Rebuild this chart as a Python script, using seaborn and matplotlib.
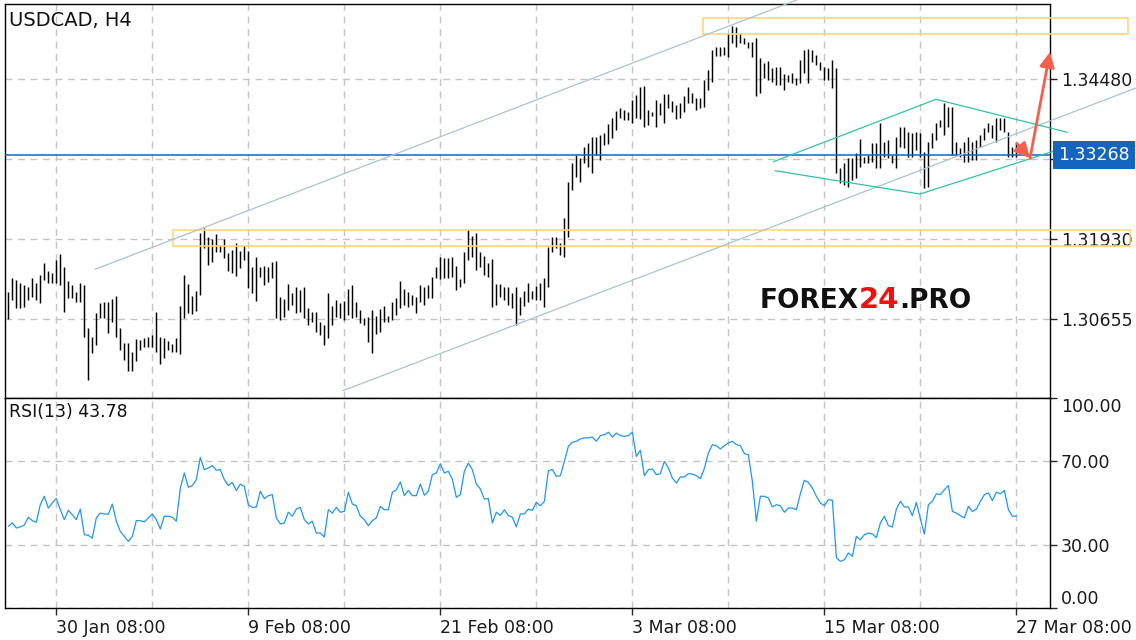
import numpy as np
import pandas as pd
import matplotlib
matplotlib.use("Agg")
import matplotlib.pyplot as plt
import matplotlib.transforms as mtransforms
from matplotlib.patches import Rectangle
import seaborn as sns

sns.set_style("white")
plt.rcParams['font.family'] = ['DejaVu Sans']

# ---------------- data (USDCAD H4) ----------------
high = [
    1.31085, 1.31308, 1.31277, 1.31229, 1.31197, 1.31165, 1.31308, 1.31229, 1.31356, 1.31547,
    1.31420, 1.31388, 1.31595, 1.31691, 1.31484, 1.31261, 1.31197, 1.31085, 1.31229, 1.31197,
    1.30512, 1.30368, 1.30751, 1.30910, 1.30926, 1.30926, 1.30974, 1.31022, 1.30512, 1.30272,
    1.30272, 1.30129, 1.30336, 1.30320, 1.30352, 1.30368, 1.30400, 1.30767, 1.30368, 1.30352,
    1.30304, 1.30257, 1.30352, 1.30862, 1.31356, 1.31213, 1.31022, 1.31101, 1.32026, 1.32105,
    1.31962, 1.31930, 1.32010, 1.31834, 1.31930, 1.31707, 1.31755, 1.31866, 1.31739, 1.31834,
    1.31739, 1.31484, 1.31643, 1.31484, 1.31500, 1.31484, 1.31563, 1.31579, 1.31006, 1.30974,
    1.31213, 1.31069, 1.31165, 1.31117, 1.31165, 1.30830, 1.30767, 1.30767, 1.30607, 1.30559,
    1.31069, 1.30862, 1.30958, 1.30910, 1.30942, 1.31133, 1.31197, 1.30926, 1.30798, 1.30671,
    1.30687, 1.30798, 1.30703, 1.30814, 1.30862, 1.30703, 1.30926, 1.30990, 1.31261, 1.31133,
    1.31085, 1.31037, 1.31006, 1.31197, 1.31165, 1.31197, 1.31324, 1.31484, 1.31643, 1.31627,
    1.31627, 1.31643, 1.31500, 1.31292, 1.31723, 1.32089, 1.31978, 1.32026, 1.31723, 1.31659,
    1.31547, 1.31611, 1.31213, 1.31213, 1.31165, 1.31165, 1.31069, 1.31165, 1.31006, 1.31101,
    1.31229, 1.31101, 1.31181, 1.31229, 1.31308, 1.31802, 1.31962, 1.31962, 1.31866, 1.32265,
    1.32838, 1.33141, 1.33269, 1.33221, 1.33396, 1.33460, 1.33556, 1.33556, 1.33587, 1.33619,
    1.33763, 1.33858, 1.33970, 1.34018, 1.33986, 1.33954, 1.34145, 1.34225, 1.34352, 1.34368,
    1.33986, 1.33954, 1.34145, 1.34097, 1.34241, 1.34241, 1.34129, 1.34066, 1.34097, 1.34209,
    1.34352, 1.34257, 1.34177, 1.34177, 1.34464, 1.34623, 1.34942, 1.34990, 1.34990, 1.34990,
    1.35213, 1.35325, 1.35309, 1.35213, 1.35133, 1.35070, 1.35070, 1.35133, 1.34815, 1.34735,
    1.34767, 1.34655, 1.34671, 1.34671, 1.34560, 1.34544, 1.34576, 1.34496, 1.34783, 1.34942,
    1.34958, 1.34942, 1.34862, 1.34751, 1.34671, 1.34655, 1.34783, 1.34655, 1.33062, 1.33141,
    1.33221, 1.33221, 1.33301, 1.33524, 1.33237, 1.33269, 1.33460, 1.33460, 1.33779, 1.33476,
    1.33508, 1.33269, 1.33556, 1.33715, 1.33715, 1.33635, 1.33619, 1.33635, 1.33619, 1.33317,
    1.33476, 1.33619, 1.33779, 1.33827, 1.34097, 1.34034, 1.34034, 1.33476, 1.33380, 1.33476,
    1.33556, 1.33476, 1.33508, 1.33587, 1.33699, 1.33779, 1.33747, 1.33858, 1.33858, 1.33858,
    1.33635, 1.33396, 1.33460,
]
low = [
    1.30655, 1.30958, 1.30830, 1.30830, 1.30846, 1.30958, 1.31006, 1.30958, 1.30910, 1.31277,
    1.31229, 1.31229, 1.31229, 1.31197, 1.30767, 1.30990, 1.30990, 1.30926, 1.30926, 1.30368,
    1.29683, 1.30113, 1.30241, 1.30671, 1.30671, 1.30432, 1.30607, 1.30368, 1.30161, 1.30002,
    1.29826, 1.29826, 1.29986, 1.30161, 1.30209, 1.30209, 1.30209, 1.30129, 1.29938, 1.30033,
    1.30161, 1.30129, 1.30129, 1.30097, 1.30671, 1.30751, 1.30735, 1.30782, 1.31037, 1.31787,
    1.31516, 1.31563, 1.31723, 1.31723, 1.31627, 1.31420, 1.31388, 1.31340, 1.31468, 1.31595,
    1.31149, 1.31069, 1.30942, 1.31324, 1.31197, 1.31245, 1.31308, 1.30671, 1.30639, 1.30687,
    1.30798, 1.30878, 1.30751, 1.30767, 1.30671, 1.30559, 1.30607, 1.30448, 1.30400, 1.30241,
    1.30352, 1.30559, 1.30687, 1.30671, 1.30639, 1.30719, 1.30671, 1.30687, 1.30591, 1.30559,
    1.30288, 1.30113, 1.30416, 1.30448, 1.30607, 1.30607, 1.30639, 1.30719, 1.30830, 1.30878,
    1.30846, 1.30878, 1.30751, 1.30926, 1.30878, 1.30990, 1.30990, 1.31308, 1.31292, 1.31308,
    1.31308, 1.31324, 1.31117, 1.31165, 1.31229, 1.31595, 1.31643, 1.31436, 1.31484, 1.31356,
    1.31324, 1.30846, 1.30878, 1.31006, 1.30958, 1.30878, 1.30830, 1.30559, 1.30719, 1.30862,
    1.30926, 1.30974, 1.30958, 1.30958, 1.30846, 1.31165, 1.31723, 1.31787, 1.31675, 1.31643,
    1.31962, 1.32711, 1.32918, 1.32838, 1.33141, 1.33077, 1.32982, 1.33269, 1.33189, 1.33428,
    1.33444, 1.33540, 1.33667, 1.33858, 1.33827, 1.33827, 1.33779, 1.33858, 1.33842, 1.33715,
    1.33747, 1.33890, 1.33715, 1.33906, 1.33779, 1.34018, 1.33954, 1.33842, 1.33858, 1.33954,
    1.34097, 1.34097, 1.33986, 1.34018, 1.34034, 1.34305, 1.34432, 1.34847, 1.34847, 1.34862,
    1.34831, 1.35054, 1.34990, 1.35054, 1.35038, 1.34974, 1.34831, 1.34209, 1.34257, 1.34496,
    1.34464, 1.34432, 1.34384, 1.34384, 1.34305, 1.34432, 1.34416, 1.34384, 1.34416, 1.34576,
    1.34416, 1.34751, 1.34703, 1.34623, 1.34464, 1.34464, 1.34337, 1.32982, 1.32822, 1.32791,
    1.32759, 1.32870, 1.32902, 1.33077, 1.33141, 1.33141, 1.33157, 1.33062, 1.33062, 1.33237,
    1.33221, 1.33141, 1.33062, 1.33396, 1.33380, 1.33237, 1.33237, 1.33348, 1.33237, 1.32743,
    1.32759, 1.33380, 1.33508, 1.33715, 1.33587, 1.33715, 1.33269, 1.33269, 1.33237, 1.33157,
    1.33157, 1.33189, 1.33189, 1.33396, 1.33508, 1.33635, 1.33540, 1.33476, 1.33667, 1.33635,
    1.33237, 1.33237, 1.33237,
]
rsi = [
    38.9, 40.5, 38.1, 38.6, 39.5, 43.2, 41.6, 40.8, 49.2, 53.2,
    47.6, 50.0, 52.1, 46.8, 42.1, 46.5, 44.4, 42.1, 47.1, 34.9,
    34.6, 33.3, 42.9, 45.2, 44.8, 44.6, 49.5, 41.3, 36.5, 34.1,
    31.7, 34.1, 41.6, 41.6, 41.0, 42.9, 44.8, 42.1, 37.6, 43.7,
    43.7, 43.2, 41.3, 57.1, 64.3, 57.5, 58.3, 61.1, 71.7, 65.9,
    66.7, 67.8, 65.6, 65.9, 61.1, 58.3, 59.8, 55.9, 59.0, 57.9,
    49.2, 47.9, 48.1, 55.6, 52.1, 53.5, 54.0, 42.9, 40.0, 40.5,
    45.6, 43.7, 47.1, 47.9, 42.1, 40.0, 41.3, 35.7, 35.7, 33.8,
    46.8, 45.2, 47.9, 45.6, 46.0, 55.1, 49.5, 48.7, 43.7, 42.1,
    39.2, 41.6, 42.9, 48.4, 46.8, 46.8, 55.1, 56.3, 60.0, 53.5,
    56.0, 53.5, 53.5, 59.0, 53.7, 55.6, 63.5, 64.3, 68.7, 64.3,
    65.1, 61.4, 52.7, 54.0, 65.1, 69.0, 65.9, 59.0, 56.7, 51.9,
    52.1, 40.5, 45.6, 44.1, 46.8, 44.0, 43.2, 38.6, 44.8, 44.8,
    47.1, 46.5, 50.3, 48.7, 50.8, 65.4, 65.9, 62.7, 63.0, 69.8,
    77.0, 78.9, 79.4, 80.5, 81.0, 81.0, 81.4, 79.4, 82.1, 82.5,
    83.7, 81.4, 83.3, 82.1, 81.7, 82.1, 83.7, 72.2, 75.1, 63.0,
    65.9, 66.2, 63.5, 64.0, 69.8, 66.7, 61.9, 59.5, 62.4, 62.4,
    64.0, 63.8, 63.0, 61.6, 66.5, 73.8, 77.8, 77.3, 75.7, 77.3,
    78.6, 79.4, 77.8, 77.3, 73.5, 73.0, 60.3, 41.3, 53.2, 53.2,
    52.4, 48.1, 49.2, 48.7, 45.6, 47.6, 47.6, 46.8, 54.4, 60.8,
    59.8, 57.1, 53.2, 50.0, 48.7, 51.6, 51.3, 24.0, 22.2, 23.0,
    26.2, 24.6, 34.1, 32.5, 34.9, 35.7, 35.2, 33.5, 40.5, 43.7,
    39.2, 38.6, 47.1, 50.8, 48.1, 48.1, 44.0, 50.3, 42.4, 35.2,
    49.2, 50.8, 54.4, 54.0, 56.3, 58.3, 46.0, 45.2, 44.0, 42.9,
    48.4, 45.9, 47.1, 50.8, 54.0, 54.8, 51.1, 55.1, 54.4, 56.0,
    46.8, 43.7, 43.78,
]
assert len(high) == len(low) == len(rsi) == 253, (len(high), len(low), len(rsi))

date_labels = ["30 Jan 08:00", "9 Feb 08:00", "21 Feb 08:00",
               "3 Mar 08:00", "15 Mar 08:00", "27 Mar 08:00"]
label_bars = [12, 60, 108, 156, 204, 252]          # bar index of each date label
grid_bars = [12, 36, 60, 84, 108, 132, 156, 180, 204, 228, 252]

price_ticks = [1.34480, 1.33205, 1.31930, 1.30655]
price_tick_labels = ["1.34480", "", "1.31930", "1.30655"]
current_price = 1.33268
rsi_ticks = [0, 30, 70, 100]
rsi_tick_labels = ["0.00", "30.00", "70.00", "100.00"]
rsi_last = 43.78

# drawn objects (bar index, price)
zone_upper = (173.7, 279.9, 1.35197, 1.35452)
zone_lower = (41.2, 280.4, 1.31818, 1.32073)
channel_upper = [(21.7, 1.31447), (197.1, 1.35739)]
channel_lower = [(83.6, 1.29512), (281.9, 1.34336)]
diamond_top = [(191.25, 1.33162), (231.9, 1.34156), (264.75, 1.33630)]
diamond_bot = [(191.7, 1.33018), (227.9, 1.32647), (266.7, 1.33439)]
arrow_small = [(252.1, 1.33455), (255.4, 1.33216)]
arrow_big = [(255.4, 1.33216), (260.4, 1.34910)]

df = pd.DataFrame({"bar": np.arange(len(high)), "high": high, "low": low, "rsi": rsi})

# ---------------- figure ----------------
W, H = 1136, 640
fig = plt.figure(figsize=(W / 100, H / 100), dpi=100)
ax = fig.add_axes([5 / W, 1 - 398 / H, 1045 / W, 394 / H])
ax2 = fig.add_axes([5 / W, 1 - 608 / H, 1045 / W, 210 / H])

xlim = (-0.825, 260.4)
grid_kw = dict(color="#c4c4c4", linestyle=(0, (5, 4)), linewidth=1.0)

# price panel
ax.vlines(df["bar"], df["low"], df["high"], color="black", linewidth=1.05)
ax.set_xlim(*xlim)
ax.set_ylim(1.29396, 1.35675)
ax.set_xticks(grid_bars)
ax.tick_params(axis="x", bottom=False, labelbottom=False)
ax.yaxis.tick_right()
ax.set_yticks(price_ticks)
ax.set_yticklabels(price_tick_labels)
ax.tick_params(axis="y", right=True, left=False, length=5, width=1, pad=3,
               labelsize=12.5, labelcolor="#1a1a1a")
ax.grid(True, **grid_kw)
ax.set_axisbelow(True)

blue = "#1565C0"
ax.axhline(current_price, color=blue, linewidth=1.1, zorder=3)
trans = mtransforms.blended_transform_factory(ax.transAxes, ax.transData)
ax.text(1.0 + 8 / 1045, current_price, "1.33268", transform=trans, ha="left", va="center",
        color="white", fontsize=12.5, zorder=10,
        bbox=dict(boxstyle="square,pad=0.3", fc=blue, ec="none"))

zone_color = "#FFD77E"
for x0, x1, y0, y1 in (zone_upper, zone_lower):
    ax.add_patch(Rectangle((x0, y0), x1 - x0, y1 - y0, fill=False, edgecolor=zone_color,
                           linewidth=1.2, clip_on=False, zorder=4))

chan_color = "#A9C4D3"
for seg in (channel_upper, channel_lower):
    ax.plot([p[0] for p in seg], [p[1] for p in seg], color=chan_color, linewidth=0.9,
            clip_on=False, zorder=4)

dia_color = "#2EC4A6"
for seg in (diamond_top, diamond_bot):
    ax.plot([p[0] for p in seg], [p[1] for p in seg], color=dia_color, linewidth=0.9,
            clip_on=False, zorder=4)

arrow_color = "#F4604E"
for seg in (arrow_small, arrow_big):
    ax.annotate("", xy=seg[1], xytext=seg[0], annotation_clip=False,
                arrowprops=dict(arrowstyle="-|>,head_length=0.9,head_width=0.45",
                                color=arrow_color, lw=2.0, shrinkA=0, shrinkB=0),
                zorder=6)

ax.text(4 / 1045, 1 - 7 / 394, "USDCAD, H4", transform=ax.transAxes, ha="left", va="top",
        fontsize=14, color="#111111")

# watermark
wm_kw = dict(fontsize=19, fontweight="bold", va="baseline")
t1 = ax.text(0.7225, 0.2284, "FOREX", transform=ax.transAxes, color="#111111", ha="left", **wm_kw)
t2 = ax.annotate("24", xy=(1, 0), xycoords=t1, ha="left", va="bottom", color="#EE1111",
                 fontsize=21, fontweight="bold")
t3 = ax.annotate(".PRO", xy=(1, 0), xycoords=t1, xytext=(0, 0), textcoords="offset points",
                 ha="left", va="bottom", color="#111111", fontsize=19, fontweight="bold")
fig.canvas.draw()
bb2 = t2.get_window_extent()
bb1 = t1.get_window_extent()
t3.xy = ((bb2.x1 - bb1.x0) / bb1.width, 0)

# RSI panel
sns.lineplot(data=df, x="bar", y="rsi", ax=ax2, color="#2196F3", linewidth=0.9)
ax2.set_xlim(*xlim)
ax2.set_ylim(0, 100)
ax2.set_xlabel("")
ax2.set_ylabel("")
ax2.set_xticks(label_bars)
ax2.set_xticklabels(date_labels, ha="left")
ax2.set_xticks([b for b in grid_bars if b not in label_bars], minor=True)
ax2.tick_params(axis="x", which="major", bottom=True, length=5, width=1, pad=3,
                labelsize=12.5, labelcolor="#1a1a1a")
ax2.tick_params(axis="x", which="minor", bottom=False)
ax2.yaxis.tick_right()
ax2.set_yticks(rsi_ticks)
ax2.set_yticklabels(rsi_tick_labels)
ax2.tick_params(axis="y", right=True, left=False, length=5, width=1, pad=3,
                labelsize=12.5, labelcolor="#1a1a1a")
ylabels = ax2.get_yticklabels()
ylabels[0].set_va("bottom")
ylabels[-1].set_va("top")
ax2.grid(True, axis="x", which="both", **grid_kw)
ax2.grid(True, axis="y", which="major", **grid_kw)
ax2.set_axisbelow(True)
ax2.text(4 / 1045, 1 - 5 / 210, f"RSI(13) {rsi_last:.2f}", transform=ax2.transAxes,
         ha="left", va="top", fontsize=12.5, color="#111111")

for a in (ax, ax2):
    for s in a.spines.values():
        s.set_color("black")
        s.set_linewidth(1.0)
        s.set_visible(True)

fig.savefig("out.png", dpi=100)
